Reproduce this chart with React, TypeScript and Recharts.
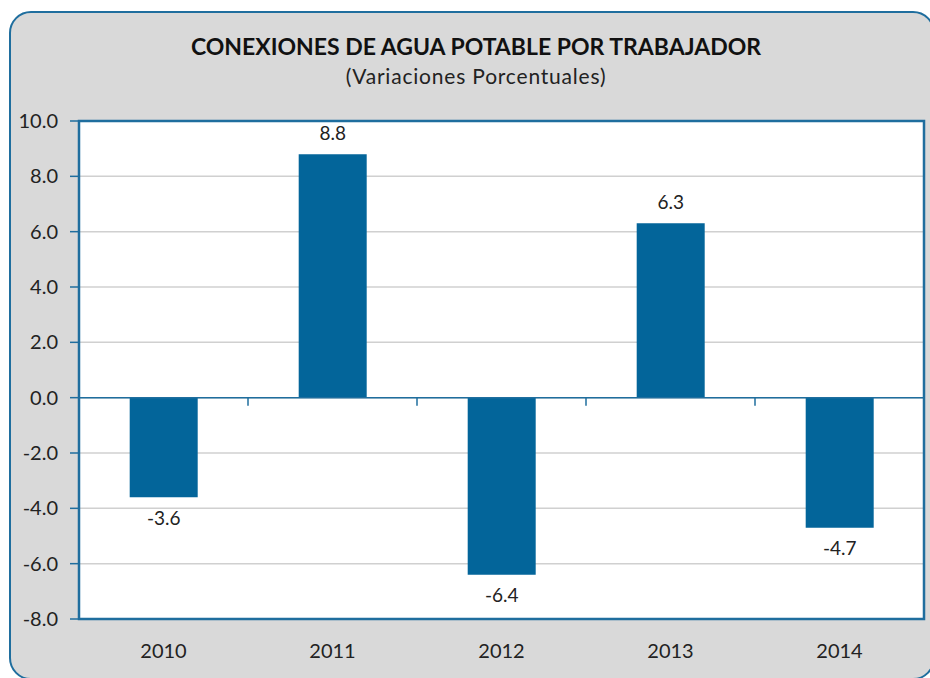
import React from 'react';
import {
  BarChart,
  Bar,
  XAxis,
  YAxis,
  CartesianGrid,
  ReferenceLine,
  ReferenceArea,
  LabelList,
} from 'recharts';

const YEARS = ['2010', '2011', '2012', '2013', '2014'];
const VARIATION = [-3.6, 8.8, -6.4, 6.3, -4.7];
const Y_TICKS = [-8, -6, -4, -2, 0, 2, 4, 6, 8, 10];

const BLUE = '#03659A';
const FRAME = '#1F6E9E';
const FONT = 'Lato, "Open Sans", sans-serif';

const data = YEARS.map((year, i) => ({ year, value: VARIATION[i] }));

// zero line with small tick marks hanging down at the category boundaries
const ZeroAxis = (props: any) => {
  const { x1, x2, y1 } = props;
  const n = YEARS.length;
  const step = (x2 - x1) / n;
  const marks = [];
  for (let i = 1; i < n; i++) {
    const x = x1 + step * i;
    marks.push(<line key={i} x1={x} x2={x} y1={y1} y2={y1 + 8} stroke={FRAME} strokeWidth={1.5} />);
  }
  return (
    <g>
      <line x1={x1} x2={x2} y1={y1} y2={y1} stroke={FRAME} strokeWidth={1.5} />
      {marks}
    </g>
  );
};

export default function App() {
  return (
    <div style={{ position: 'absolute', left: 0, top: 0, width: 930, height: 678, overflow: 'hidden' }}>
      <div
        style={{
          position: 'absolute',
          left: 9,
          top: 11,
          width: 922,
          height: 665,
          background: '#D9D9D9',
          border: `2px solid ${FRAME}`,
          borderRadius: 22,
        }}
      />
      <div
        style={{
          position: 'absolute',
          left: 0,
          width: 952,
          top: 32,
          textAlign: 'center',
          fontFamily: FONT,
          fontWeight: 700,
          fontSize: 23,
          color: '#111',
        }}
      >
        CONEXIONES DE AGUA POTABLE POR TRABAJADOR
      </div>
      <div
        style={{
          position: 'absolute',
          left: 0,
          width: 952,
          top: 63,
          textAlign: 'center',
          fontFamily: FONT,
          fontSize: 21,
          letterSpacing: 0.8,
          color: '#222',
        }}
      >
        (Variaciones Porcentuales)
      </div>
      <div style={{ position: 'absolute', left: 0, top: 0 }}>
        <BarChart
          width={930}
          height={678}
          data={data}
          margin={{ top: 121, right: 6, bottom: 0, left: 19 }}
          barCategoryGap="30%"
        >
          <CartesianGrid vertical={false} stroke="#D0D0D0" strokeWidth={1.5} fill="#FFFFFF" />
          <XAxis
            dataKey="year"
            height={59}
            axisLine={false}
            tickLine={false}
            tickSize={0}
            tickMargin={25}
            tick={{ fill: '#222', fontSize: 20, fontFamily: FONT }}
          />
          <YAxis
            width={60}
            domain={[-8, 10]}
            ticks={Y_TICKS}
            interval={0}
            allowDataOverflow
            axisLine={false}
            tickSize={9}
            tickMargin={12}
            tickLine={{ stroke: FRAME, strokeWidth: 1.5 }}
            tickFormatter={(v: number) => v.toFixed(1)}
            tick={{ fill: '#222', fontSize: 20, fontFamily: FONT }}
          />
          <Bar dataKey="value" fill={BLUE} isAnimationActive={false}>
            <LabelList
              dataKey="value"
              position="top"
              offset={14}
              formatter={(v: number) => v.toFixed(1)}
              style={{ fill: '#222', fontSize: 19, fontFamily: FONT }}
            />
          </Bar>
          <ReferenceLine y={0} shape={ZeroAxis} />
          <ReferenceArea y1={-8} y2={10} fill="none" stroke={FRAME} strokeWidth={2.5} ifOverflow="visible" />
        </BarChart>
      </div>
    </div>
  );
}
